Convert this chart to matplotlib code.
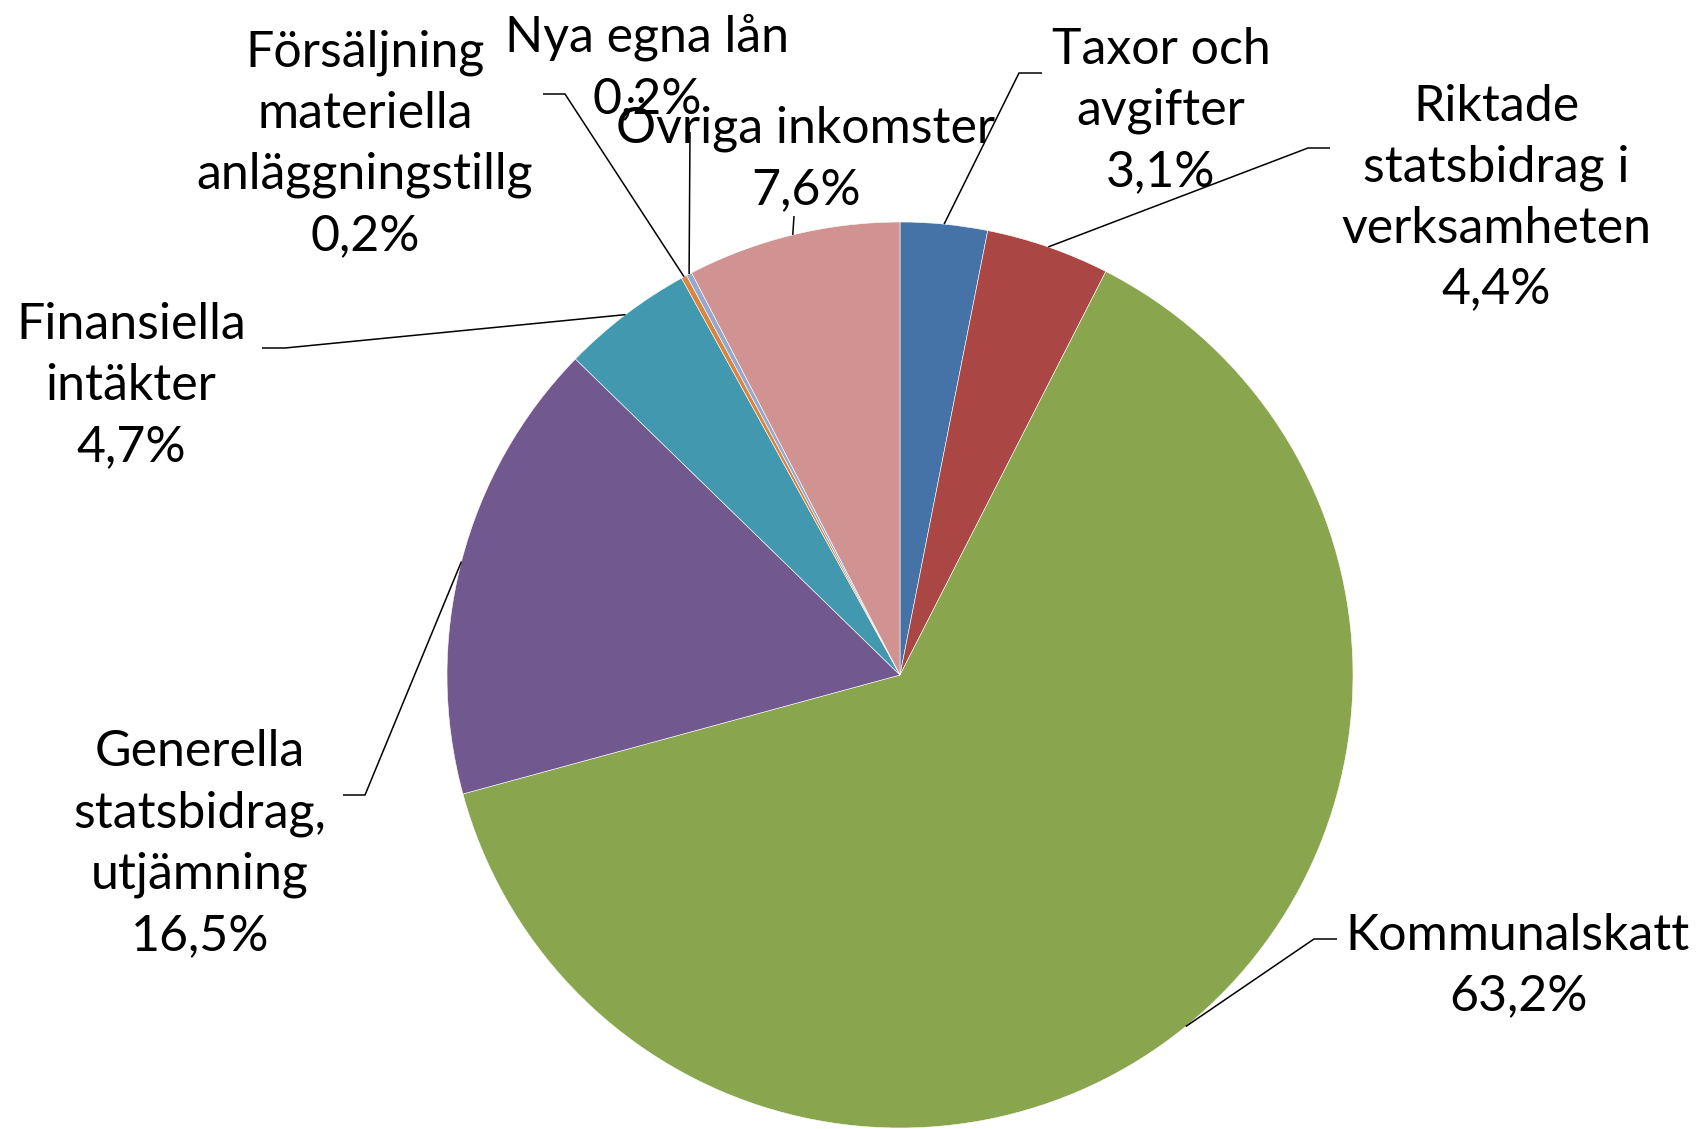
import numpy as np
import matplotlib.pyplot as plt

# Kommunens inkomster, andel i procent
labels = ['Taxor och\navgifter', 'Riktade\nstatsbidrag i\nverksamheten', 'Kommunalskatt',
          'Generella\nstatsbidrag,\nutjämning', 'Finansiella\nintäkter',
          'Försäljning\nmateriella\nanläggningstillg', 'Nya egna lån', 'Övriga inkomster']
shares = [3.1, 4.4, 63.2, 16.5, 4.7, 0.2, 0.2, 7.6]
colors = ['#4572A7', '#AA4643', '#89A54E', '#71588F', '#4198AF', '#DB843D', '#93A9CF', '#D19392']

# label centre and leader elbow/end in pixel coordinates (y downwards)
label_pos = [(1161, 111), (1496, 198), (1518, 966), (200, 844),
             (131, 386), (365, 144), (647, 68), (806, 155)]
elbows = [((1019, 73), (1042, 73)), ((1308, 148), (1330, 148)), ((1314, 939), (1337, 939)),
          ((365, 795), (343, 795)), ((285, 348), (262, 348)), ((565, 94), (543, 94)),
          ((690, 132), None), ((794, 216), None)]

W, H = 1697, 1129
cx, cy, r = 900, 675, 453

fig = plt.figure(figsize=(W / 100, H / 100), dpi=100)
ax = fig.add_axes([0, 0, 1, 1])

# y axis is flipped below, so counterclock in data runs clockwise on screen
wedges, _ = ax.pie(shares, colors=colors, startangle=-90, counterclock=True,
                   radius=r, center=(cx, cy),
                   wedgeprops=dict(edgecolor='white', linewidth=0.4))

ax.set_xlim(0, W)
ax.set_ylim(H, 0)
ax.set_aspect('equal')
ax.axis('off')

for w, lab, val, (tx, ty), (elb, end) in zip(wedges, labels, shares, label_pos, elbows):
    mid = np.deg2rad((w.theta1 + w.theta2) / 2)
    sx, sy = cx + r * np.cos(mid), cy + r * np.sin(mid)
    xs, ys = [sx, elb[0]], [sy, elb[1]]
    if end is not None:
        xs.append(end[0])
        ys.append(end[1])
    ax.plot(xs, ys, color='black', lw=1.1, solid_capstyle='butt')
    txt = f'{lab}\n{val:.1f}%'.replace('.', ',')
    ax.text(tx, ty, txt, ha='center', va='center', fontsize=36, family='Lato',
            linespacing=1.4, color='black')

fig.savefig('out.png', dpi=100, facecolor='white')
